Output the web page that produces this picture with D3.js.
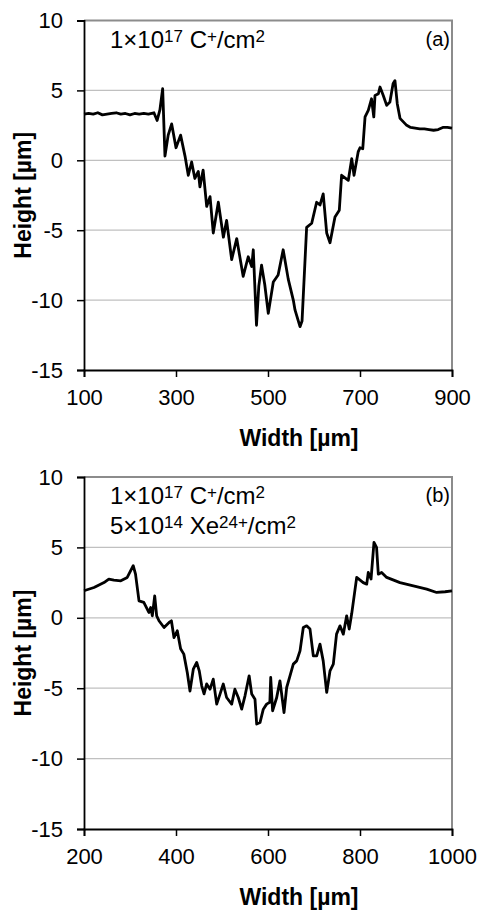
<!DOCTYPE html>
<html>
<head>
<meta charset="utf-8">
<script src="https://cdn.jsdelivr.net/npm/d3@7"></script>
<style>
  body { margin: 0; background: #fff; }
  svg { display: block; font-family: Arial, "Liberation Sans", sans-serif; }
</style>
</head>
<body>
<div class="vis"></div>
<script>
// panel (a): 1e17 C+/cm2
const widthA = [100, 110, 120, 130, 140, 150, 160, 170, 180, 190, 200, 210, 220, 230, 240, 252,
  259, 265, 271, 276, 283, 290.6, 300, 310, 319.6, 326.7, 334, 341, 348.5, 352, 359, 366.7, 374,
  381, 392, 403, 410, 421, 432, 446, 457, 464.6, 468, 475, 480, 486, 493, 500.6, 511.5, 522, 533,
  544, 555, 558.7, 569.6, 574, 584, 595, 605.7, 613, 620, 627.6, 634.8, 645.6, 655, 660, 674.6,
  682, 687, 696, 700, 706, 711, 718, 725, 730, 732.6, 740, 743.5, 750.6, 758, 765, 772, 776, 781,
  787, 801.5, 810, 820, 830, 840, 850, 860, 870, 880, 890, 900];
const heightA = [3.3, 3.35, 3.3, 3.4, 3.25, 3.3, 3.35, 3.4, 3.3, 3.35, 3.25, 3.35, 3.3, 3.35, 3.3, 3.4,
  2.85, 3.6, 5.12, 0.3, 1.8, 2.6, 0.9, 1.8, 0.3, -1.07, -0.12, -1.3, -0.8, -1.9, -0.7, -3.3, -2.6,
  -5.2, -3.0, -5.5, -4.3, -7.1, -5.6, -8.3, -6.9, -7.6, -6.4, -11.8, -9.0, -7.5, -8.9, -10.95, -8.7,
  -8.2, -6.4, -8.5, -10.0, -10.7, -11.9, -11.5, -4.8, -4.5, -3.0, -3.2, -2.4, -5.2, -5.9, -4.05, -3.57,
  -1.07, -1.43, 0.12, -1.07, 0.6, 0.9, 0.83, 3.1, 3.57, 4.4, 3.1, 4.64, 4.76, 5.24, 4.64, 3.93,
  4.17, 5.5, 5.7, 4.05, 3.0, 2.5, 2.35, 2.3, 2.25, 2.25, 2.2, 2.15, 2.2, 2.35, 2.35, 2.3];

// panel (b): 1e17 C+/cm2 + 5e14 Xe24+/cm2
const widthB = [200, 221.7, 243.5, 254, 265, 280, 294, 307, 312, 319.6, 330, 341, 345, 348.5, 353.7,
  358, 363, 374, 385, 390, 395.6, 402.8, 410, 417, 424.6, 430.4, 437.6, 445, 450.6, 455.9, 461,
  466.7, 474, 481, 488.5, 495.7, 502.8, 510, 521, 528, 535.4, 542.8, 550, 559, 564.6, 571.7, 575.4,
  582.6, 589.8, 597, 604, 605.9, 610, 618.9, 626, 634.8, 640.6, 647.8, 655, 662.4, 669.6, 676.7,
  684, 691.3, 698.5, 705.9, 713, 720, 727.6, 734.8, 742, 749, 756.5, 763.7, 771, 776.5, 782, 792.8,
  807, 814.6, 818, 824, 830.4, 836, 839.8, 847, 858, 887, 916, 945, 966.7, 985, 1000];
const heightB = [1.92, 2.15, 2.5, 2.75, 2.68, 2.63, 2.87, 3.7, 3.1, 1.2, 1.09, 0.38, 0.73, 0.14, 1.56,
  0.14, -0.21, -0.69, -0.33, -0.21, -1.4, -0.92, -2.2, -2.58, -3.9, -5.2, -3.65, -3.17, -3.77, -4.83,
  -5.4, -4.7, -5.07, -4.36, -6.13, -5.42, -4.7, -5.66, -6.13, -5.07, -5.66, -6.49, -5.54, -4.12, -5.42,
  -5.78, -7.55, -7.44, -6.49, -6.13, -6.0, -4.24, -6.6, -5.66, -4.48, -6.73, -4.95, -4.12, -3.29,
  -3.06, -2.35, -0.69, -0.57, -0.8, -2.7, -2.7, -1.87, -3.06, -5.3, -3.77, -3.29, -1.16, -0.57, -1.16,
  0.14, -0.8, 0.3, 2.87, 2.5, 2.39, 3.22, 2.75, 5.35, 5.0, 3.1, 3.22, 2.87, 2.5, 2.27, 2.04, 1.8,
  1.85, 1.92];

const yTicks = [-15, -10, -5, 0, 5, 10];
const xTicksA = [100, 300, 500, 700, 900];
const xTicksB = [200, 400, 600, 800, 1000];

const svg = d3.select('.vis').append('svg')
    .attr('width', 481)
    .attr('height', 913);

const drawPanel = (cfg) => {
    const left = 84, right = 452;
    const x = d3.scaleLinear().domain(cfg.xDomain).range([left, right]);
    const y = d3.scaleLinear().domain([-15, 10]).range([cfg.bottom, cfg.top]);
    const g = svg.append('g');

    // gridlines
    g.selectAll('.grid')
        .data(yTicks.filter(t => t > -15 && t < 10))
        .enter().append('line')
        .attr('x1', left).attr('x2', right)
        .attr('y1', d => y(d)).attr('y2', d => y(d))
        .attr('stroke', '#c0c0c0').attr('stroke-width', 1.2);

    // plot border (top + right grey)
    g.append('path')
        .attr('d', `M${left},${y(10)}H${right}V${y(-15)}`)
        .attr('fill', 'none').attr('stroke', '#8c8c8c').attr('stroke-width', 2);

    // the profile
    const line = d3.line()
        .x((d, i) => x(cfg.xs[i]))
        .y(d => y(d));
    g.append('path')
        .datum(cfg.ys)
        .attr('d', line)
        .attr('fill', 'none')
        .attr('stroke', '#000')
        .attr('stroke-width', 2.8)
        .attr('stroke-linejoin', 'round');

    // y axis
    const fmt = d => String(d);
    const yAxis = g.append('g')
        .attr('transform', `translate(${left},0)`)
        .call(d3.axisLeft(y).tickValues(yTicks).tickFormat(fmt).tickSize(7).tickPadding(14));
    // x axis
    const xAxis = g.append('g')
        .attr('transform', `translate(0,${y(-15)})`)
        .call(d3.axisBottom(x).tickValues(cfg.xTicks).tickFormat(fmt).tickSize(7).tickPadding(12));
    [yAxis, xAxis].forEach(a => {
        a.select('.domain').attr('stroke', '#000').attr('stroke-width', 1.8);
        a.selectAll('.tick line').attr('stroke', '#000').attr('stroke-width', 1.5);
        a.selectAll('.tick text').attr('font-size', 22).attr('fill', '#000')
            .attr('font-family', 'Arial, "Liberation Sans", sans-serif');
    });

    // axis titles
    g.append('text')
        .attr('x', 299).attr('y', cfg.bottom + 76)
        .attr('text-anchor', 'middle')
        .attr('font-size', 23).attr('font-weight', 'bold')
        .text('Width [µm]');
    g.append('text')
        .attr('transform', `translate(31,${(cfg.top + cfg.bottom) / 2}) rotate(-90)`)
        .attr('text-anchor', 'middle')
        .attr('font-size', 23).attr('font-weight', 'bold')
        .text('Height [µm]');

    // panel letter
    g.append('text')
        .attr('x', 450).attr('y', cfg.top + 25)
        .attr('text-anchor', 'end')
        .attr('font-size', 20)
        .text(cfg.letter);

    // dose annotations
    cfg.notes.forEach((parts, i) => {
        const t = g.append('text')
            .attr('x', 110).attr('y', cfg.top + 27 + i * 30)
            .attr('font-size', 24);
        parts.forEach(p => {
            const s = t.append('tspan').text(p[0]);
            if (p[1]) s.attr('font-size', 17).attr('baseline-shift', '35%');
        });
    });
};

drawPanel({
    xDomain: [100, 900], xTicks: xTicksA, xs: widthA, ys: heightA,
    top: 20.5, bottom: 370, letter: '(a)',
    notes: [[['1×10'], ['17', true], [' C'], ['+', true], ['/cm'], ['2', true]]]
});
drawPanel({
    xDomain: [200, 1000], xTicks: xTicksB, xs: widthB, ys: heightB,
    top: 477, bottom: 829, letter: '(b)',
    notes: [[['1×10'], ['17', true], [' C'], ['+', true], ['/cm'], ['2', true]],
            [['5×10'], ['14', true], [' Xe'], ['24+', true], ['/cm'], ['2', true]]]
});
</script>
</body>
</html>
